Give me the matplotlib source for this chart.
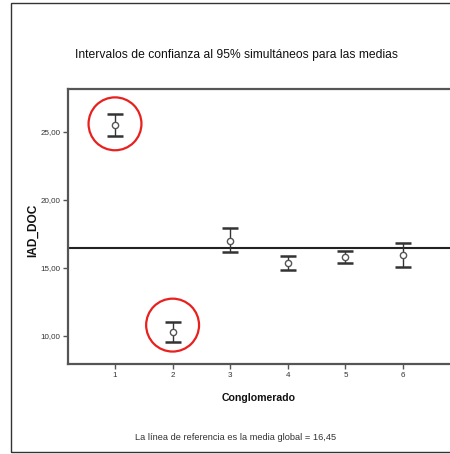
import matplotlib.pyplot as plt
from matplotlib.patches import Rectangle

# cluster means with simultaneous 95% intervals
groups = [1, 2, 3, 4, 5, 6]
means = [25.50, 10.30, 17.00, 15.39, 15.79, 15.93]
lower = [24.71, 9.56, 16.18, 14.88, 15.35, 15.05]
upper = [26.32, 11.03, 17.92, 15.90, 16.25, 16.82]
grand_mean = 16.45
yticks = [10, 15, 20, 25]
ytick_labels = ["10,00", "15,00", "20,00", "25,00"]
# highlighted clusters (group, centre of ring)
marked = [(1, 25.6), (2, 10.8)]

narrow = ["Liberation Sans Narrow", "Liberation Sans", "DejaVu Sans"]
W, H = 450, 454

fig = plt.figure(figsize=(W / 100, H / 100), dpi=100)
fig.patch.set_facecolor("white")

# outer border
fig.add_artist(Rectangle((11 / W, 1 - 452 / H), 1.2, (452 - 3) / H,
                         transform=fig.transFigure, fill=False,
                         edgecolor="#333333", lw=1.0))

ax = fig.add_axes([68 / W, 1 - 364 / H, 1.0 - 68 / W, (364 - 89) / H])
ax.set_xlim(0.184, 6.816)
ax.set_ylim(7.94, 28.16)

ax.axhline(grand_mean, color="#222222", lw=1.5, zorder=2)

err_lo = [m - l for m, l in zip(means, lower)]
err_hi = [u - m for m, u in zip(means, upper)]
ax.errorbar(groups, means, yerr=[err_lo, err_hi], fmt="none",
            ecolor="#333333", elinewidth=1.0, capsize=5.8, capthick=1.8,
            zorder=3)
ax.plot(groups, means, "o", ms=4.5, mfc="white", mec="#555555",
        mew=1.0, zorder=4)

for g, yc in marked:
    ax.scatter([g], [yc], s=1450, facecolors="none", edgecolors="#e8201e",
               linewidths=1.6, zorder=5)

for side in ["left", "bottom", "top"]:
    ax.spines[side].set_color("#555555")
    ax.spines[side].set_linewidth(1.6)
ax.spines["right"].set_visible(False)

ax.set_yticks(yticks)
ax.set_yticklabels(ytick_labels, family=narrow, fontsize=5.8, color="#333333")
ax.set_xticks(groups)
ax.set_xticklabels([str(g) for g in groups], family=narrow, fontsize=5.8,
                   color="#333333")
ax.tick_params(length=3.5, width=1.0, color="#555555", pad=2)

fig.text(236 / W, 1 - 55 / H,
         "Intervalos de confianza al 95% simultáneos para las medias",
         ha="center", va="center", family=narrow, fontsize=8.7, color="#111111")
fig.text(33 / W, 1 - 230 / H, "IAD_DOC", rotation=90, ha="center",
         va="center", family=narrow, fontsize=8.6, fontweight="bold",
         color="#111111")
fig.text(259 / W, 1 - 398 / H, "Conglomerado", ha="center", va="center",
         family=narrow, fontsize=7.6, fontweight="bold", color="#111111")
fig.text(236 / W, 1 - 437 / H,
         "La línea de referencia es la media global = 16,45",
         ha="center", va="center", family=narrow, fontsize=6.7,
         color="#333333")

fig.savefig("out.png", dpi=100)
